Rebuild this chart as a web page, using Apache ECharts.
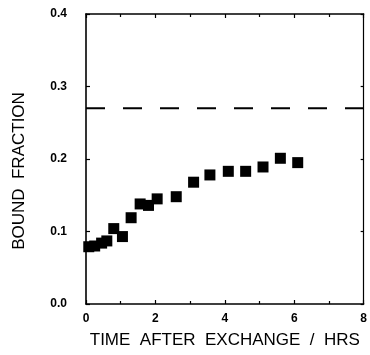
<!DOCTYPE html>
<html>
<head>
<meta charset="utf-8">
<script src="https://cdn.jsdelivr.net/npm/echarts@6/dist/echarts.min.js"></script>
<style>
  html, body { margin: 0; padding: 0; background: #fff; }
  #chart { width: 370px; height: 355px; }
</style>
</head>
<body>
<div id="chart"></div>
<script>
// Time after exchange (hours) and bound fraction measurements
const timeHrs = [0.08, 0.25, 0.45, 0.6, 0.8, 1.05, 1.3, 1.56, 1.8, 2.05, 2.6, 3.1, 3.57, 4.1, 4.6, 5.1, 5.6, 6.1];
const boundFraction = [0.079, 0.080, 0.084, 0.087, 0.104, 0.093, 0.119, 0.138, 0.136, 0.145, 0.148, 0.168, 0.178, 0.183, 0.183, 0.189, 0.201, 0.195];
// Equilibrium level shown as dashed reference line
const equilibriumLevel = 0.27;
const xRange = [0, 8];
const yRange = [0, 0.4];

const points = timeHrs.map((t, i) => [t, boundFraction[i]]);
const refLine = xRange.map(x => [x, equilibriumLevel]);

const ink = '#000';
const font = 'Liberation Sans, Arial, Helvetica, sans-serif';

const chart = echarts.init(document.getElementById('chart'), null, { renderer: 'canvas' });
chart.setOption({
  animation: false,
  backgroundColor: '#fff',
  grid: { left: 86, right: 2, top: 14, bottom: 51, containLabel: false },
  xAxis: [
    {
      type: 'value', min: xRange[0], max: xRange[1], interval: 2,
      name: 'TIME  AFTER  EXCHANGE  /  HRS', nameLocation: 'middle', nameGap: 28,
      nameTextStyle: { fontFamily: font, fontSize: 17, color: ink },
      axisLine: { onZero: false, lineStyle: { color: ink, width: 1.6 } },
      axisTick: { inside: true, length: 4, lineStyle: { color: ink, width: 1.2 } },
      minorTick: { show: true, splitNumber: 2, length: 3, lineStyle: { color: ink, width: 1.2 } },
      axisLabel: { fontFamily: font, fontSize: 12, fontWeight: 'bold', color: ink, margin: 9 },
      splitLine: { show: false }
    },
    {
      type: 'value', position: 'top', min: xRange[0], max: xRange[1], interval: 2,
      axisLine: { show: true, onZero: false, lineStyle: { color: ink, width: 1.6 } },
      axisTick: { inside: true, length: 4, lineStyle: { color: ink, width: 1.2 } },
      minorTick: { show: true, splitNumber: 2, length: 3, lineStyle: { color: ink, width: 1.2 } },
      axisLabel: { show: false },
      splitLine: { show: false }
    }
  ],
  yAxis: [
    {
      type: 'value', min: yRange[0], max: yRange[1], interval: 0.1,
      name: 'BOUND  FRACTION', nameLocation: 'middle', nameGap: 58,
      nameTextStyle: { fontFamily: font, fontSize: 17, color: ink, padding: [0, 24, 0, 0] },
      axisLine: { show: true, onZero: false, lineStyle: { color: ink, width: 1.6 } },
      axisTick: { show: true, inside: true, length: 4, lineStyle: { color: ink, width: 1.2 } },
      axisLabel: { fontFamily: font, fontSize: 12, fontWeight: 'bold', color: ink, margin: 19,
                   formatter: v => v.toFixed(1) },
      splitLine: { show: false }
    },
    {
      type: 'value', position: 'right', min: yRange[0], max: yRange[1], interval: 0.1,
      axisLine: { show: true, onZero: false, lineStyle: { color: ink, width: 1.2 } },
      axisTick: { show: true, inside: true, length: 3, lineStyle: { color: ink, width: 1.2 } },
      axisLabel: { show: false },
      splitLine: { show: false }
    }
  ],
  series: [
    {
      type: 'line', data: refLine, showSymbol: false, symbol: 'none',
      lineStyle: { color: ink, width: 1.8, type: [19, 18] }
    },
    {
      type: 'scatter', data: points, symbol: 'rect', symbolSize: 11,
      itemStyle: { color: ink, opacity: 1 }
    }
  ]
});
</script>
</body>
</html>
